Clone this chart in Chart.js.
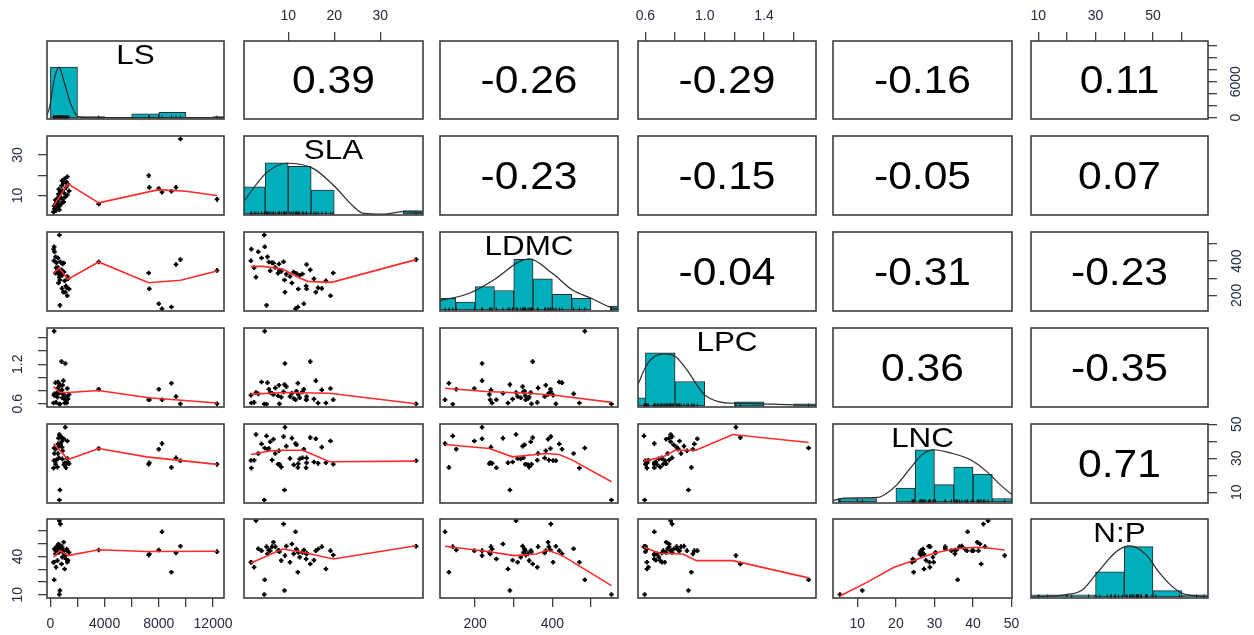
<!DOCTYPE html>
<html>
<head>
<meta charset="utf-8">
<script src="https://cdn.jsdelivr.net/npm/chart.js@4.4.0/dist/chart.umd.min.js"></script>
<style>
html,body{margin:0;background:#fff;}
#grid{position:relative;width:1254px;height:635px;overflow:hidden;background:#fff;}
#grid canvas{position:absolute;}
</style>
</head>
<body>
<div id="grid"></div>
<script>
// variables (45 observations each)
const names = ['LS','SLA','LDMC','LPC','LNC','N:P'];
const LS = [3565,7255,7300,7996,8236,8930,9270,9594,12295,
  664,700,1150,233,520,380,1200,1000,1380,1050,1300,260,450,420,880,1250,620,560,300,900,
  380,280,860,640,760,560,820,1250,980,600,960,820,738,660,700,1100];
const SLA = [5.8,19.8,14.0,13.4,11.6,12.1,14.0,37.8,8.1,
  4.8,9.2,13.9,2.0,8.5,7.8,16.5,11.2,12.2,18.2,15.6,1.9,6.5,2.6,12.5,10.4,13.1,7.2,3.5,8.0,
  5.5,4.9,17.3,9.6,11.8,4.2,6.1,19.2,6.8,10.8,16.0,14.8,9.0,3.0,5.3,9.3];
const LDMC = [395,331,239,151,122,132,380,409,346,
  553,290,255,470,340,330,244,337,237,285,297,402,391,361,318,310,325,363,455,383,
  425,484,241,323,328,418,344,198,389,272,218,349,396,306,142,218];
const LPC = [0.82,0.66,0.66,0.82,0.66,0.91,0.71,0.60,0.60,
  0.595,0.89,0.66,0.61,0.70,0.72,0.61,0.68,0.74,0.61,0.67,0.73,0.76,0.62,0.69,0.71,0.78,0.84,0.75,0.88,
  0.92,1.70,0.81,0.86,0.79,0.93,0.77,0.83,0.74,0.76,0.95,1.24,0.78,0.77,0.59,1.21];
const LNC = [35.7,26.5,27.3,35.3,38.6,24.6,30.2,28.5,26.4,
  5.5,11.3,24.4,24.2,24.8,26.5,27.0,26.2,26.8,27.3,27.8,28.7,28.9,28.8,29.6,29.8,30.3,32.8,32.8,34.4,
  35.3,36.0,36.5,37.1,37.9,38.4,39.7,40.1,41.1,41.8,41.4,42.1,42.7,43.9,43.1,48.2];
const NP = [45,41,41.9,45,59.2,27.6,42.7,47.9,43.7,
  10.2,13.3,38.0,35.4,36.7,44.5,45.8,42.0,43.0,30.2,37.0,35.4,47.6,31.5,39.3,35.4,43.0,47.6,46.0,44.5,
  42.0,21.7,47.6,48.0,45.8,44.5,44.5,44.5,51.0,49.7,44.5,34.1,65.2,67.8,47.6,40.6];

// correlations, upper triangle, row by row
const corrLS = [0.39,-0.26,-0.29,-0.16,0.11];
const corrSLA = [-0.23,-0.15,-0.05,0.07];
const corrLDMC = [-0.04,-0.31,-0.23];
const corrLPC = [0.36,-0.35];
const corrLNC = [0.71];

// histograms: bin centres, counts, density curve (count units)
const binsLS = [1000,3000,5000,7000,9000,11000,13000];
const countsLS = [36,1,0,3,4,0,1];
const densLS = [[-250,2],[-50,8],[300,28],[635,36],[1000,26],[1500,10],[2037,1.1],[2600,0.3],[12810,0.3]];
const binsSLA = [2.5,7.5,12.5,17.5,22.5,27.5,32.5,37.5];
const countsSLA = [8,15,14,7,0,0,0,1];
const densSLA = [[0.3,3.6],[5.2,12],[9.7,14.9],[15.4,13.4],[19.8,8.5],[24.2,2.2],[26.3,0.2],[30.7,0],[35.1,0.7],[39.1,0.4]];
const binsLDMC = [125,175,225,275,325,375,425,475,525,575];
const countsLDMC = [3,2,6,5,13,8,4,3,0,1];
const densLDMC = [[108,2.4],[185,4.3],[254,8.1],[314,12.4],[340,13.1],[400,9.4],[452,5.1],[501,3],[547,0.85],[569,0.2]];
const binsLPC = [0.5,0.7,0.9,1.1,1.3,1.5,1.7];
const countsLPC = [4,26,12,0,2,0,1];
const densLPC = [[0.55,10.6],[0.605,19.6],[0.65,23.6],[0.729,25.5],[0.8,24.4],[0.876,18],[0.995,5.7],[1.1,2],[1.215,1.3],[1.33,1.2],[1.55,0.7],[1.75,0.3]];
const binsLNC = [7.5,12.5,17.5,22.5,27.5,32.5,37.5,42.5,47.5];
const countsLNC = [1,1,0,4,15,5,10,8,1];
const densLNC = [[3.7,0.4],[6.6,1.1],[15.2,1.3],[17.7,2.6],[20.3,5],[23.8,9.8],[26.8,13.6],[29.8,15],[34.1,14.1],[39.2,12.2],[43.5,8.8],[47,5],[50.1,2.1]];
const binsNP = [5,15,25,35,45,55,65];
const countsNP = [1,1,1,12,24,3,1];
const densNP = [[7.6,0],[19.7,1.1],[25.5,3.5],[30.2,10.9],[37.2,21.6],[41.9,24.4],[47.7,20.1],[51.9,12.2],[56,5.9],[60,1.9],[66.5,0.3],[69.2,0]];

// smoothed lines of the scatter panels, [x, y]
const fitSLA_LS = [[233,4.8],[1300,15.7],[3565,6.4],[8000,12.9],[10000,12.1],[12295,10]];
const fitLDMC_LS = [[233,330],[650,360],[1300,294],[3565,395],[7250,274],[9600,288],[12295,342]];
const fitLPC_LS = [[233,0.86],[700,0.77],[1300,0.77],[3565,0.80],[7250,0.69],[12295,0.61]];
const fitLNC_LS = [[233,38.5],[800,33.8],[1300,29.2],[3565,35.7],[7100,30.8],[12295,26.4]];
const fitNP_LS = [[233,39.5],[700,44.5],[1300,40.6],[3565,45.2],[7100,43.8],[12295,44]];
const fitLDMC_SLA = [[1.9,369.6],[4.5,369.6],[8.8,354.4],[12.5,301.8],[14.3,282],[19.4,276],[37.8,408.8]];
const fitLPC_SLA = [[1.9,0.745],[9.6,0.77],[19,0.76],[37.8,0.6]];
const fitLNC_SLA = [[1.9,32.2],[5.9,34.2],[8.8,34.7],[13.2,34.7],[19,27.9],[37.8,28.3]];
const fitNP_SLA = [[1.9,34.9],[8.8,45.8],[13.2,43.2],[19.8,38],[37.8,48.3]];
const fitLPC_LDMC = [[122,0.835],[228,0.785],[340,0.76],[418,0.72],[553,0.62]];
const fitLNC_LDMC = [[122,38.1],[237,35.7],[297,30.8],[383,32.8],[418,32.2],[452,28.9],[553,16.2]];
const fitNP_LDMC = [[122,47.9],[228,44],[302,40.6],[358,41.9],[388,45],[426,40.6],[553,17.2]];
const fitLNC_LPC = [[0.59,28.3],[0.72,30.8],[0.8,34.7],[0.94,34.7],[1.19,43.9],[1.70,39.2]];
const fitNP_LPC = [[0.59,47.1],[0.695,42.4],[0.853,41.9],[0.944,36.7],[1.19,36.7],[1.70,23.2]];
const fitNP_LNC = [[5.5,9],[12.6,19.9],[19.5,31.5],[24.6,36.7],[29.8,42.4],[34.9,45.8],[40.9,47.1],[44.4,46.3],[48.2,45]];

// axis ticks
const ticksLS = [0,2000,4000,6000,8000,10000,12000];
const ticksSLA = [10,20,30];
const ticksLDMC = [200,300,400,500];
const ticksLPC = [0.6,0.8,1.0,1.2,1.4,1.6];
const ticksLNC = [10,20,30,40,50];
const ticksNP = [10,20,30,40,50,60];

const vars = [LS,SLA,LDMC,LPC,LNC,NP];
const corrTable = [corrLS,corrSLA,corrLDMC,corrLPC,corrLNC];
const histBins = [binsLS,binsSLA,binsLDMC,binsLPC,binsLNC,binsNP];
const histCounts = [countsLS,countsSLA,countsLDMC,countsLPC,countsLNC,countsNP];
const histDens = [densLS,densSLA,densLDMC,densLPC,densLNC,densNP];
const fits = {
  '1,0':fitSLA_LS,'2,0':fitLDMC_LS,'3,0':fitLPC_LS,'4,0':fitLNC_LS,'5,0':fitNP_LS,
  '2,1':fitLDMC_SLA,'3,1':fitLPC_SLA,'4,1':fitLNC_SLA,'5,1':fitNP_SLA,
  '3,2':fitLPC_LDMC,'4,2':fitLNC_LDMC,'5,2':fitNP_LDMC,
  '4,3':fitLNC_LPC,'5,3':fitNP_LPC,'5,4':fitNP_LNC
};

// scale ranges per variable, and count ranges of the histograms
const axisMin = [-250,0.4,109,0.55,3.7,7.5];
const axisMax = [12810,39.3,570,1.75,50.1,69.2];
const histMin = [-0.7,-0.3,-0.26,-0.5,-0.29,-0.48];
const histMax = [54.4,22.9,20,38.2,22.4,37.2];

// outer axes: which panel and which side
const outerAxes = [
  {r:0,c:1,side:'top',ticks:ticksSLA,labels:['10','20','30'],pad:7},
  {r:0,c:3,side:'top',ticks:ticksLPC,labels:['0.6','','1.0','','1.4',''],pad:7},
  {r:0,c:5,side:'top',ticks:ticksNP,labels:['10','','30','','50',''],pad:7},
  {r:0,c:5,side:'right',ticks:ticksLS,labels:['0','','','6000','','',''],pad:4},
  {r:2,c:5,side:'right',ticks:ticksLDMC,labels:['200','','400',''],pad:8},
  {r:4,c:5,side:'right',ticks:ticksLNC,labels:['10','','30','','50'],pad:12},
  {r:5,c:0,side:'bottom',ticks:ticksLS,labels:['0','','4000','','8000','','12000'],pad:9},
  {r:5,c:2,side:'bottom',ticks:ticksLDMC,labels:['200','','400',''],pad:9},
  {r:5,c:4,side:'bottom',ticks:ticksLNC,labels:['10','20','30','40','50'],pad:9},
  {r:1,c:0,side:'left',ticks:ticksSLA,labels:['10','','30'],pad:12},
  {r:3,c:0,side:'left',ticks:ticksLPC,labels:['0.6','','','1.2','',''],pad:10},
  {r:5,c:0,side:'left',ticks:ticksNP,labels:['10','','','40','',''],pad:12}
];

// panel layout
const colL = [47,244,440,638,833,1031];
const colW = [177,179,178,178,179,177];
const rowT = [41,136,232,328,424,519];
const rowH = [78,79,79,79,79,79];
const M = 42, AX = 40;
const fontFam = '"Liberation Sans", Arial, sans-serif';
const grid = document.getElementById('grid');

const panelDeco = {
  id: 'panelDeco',
  afterDraw(chart, args, o) {
    const {ctx, chartArea: a} = chart;
    ctx.save();
    if (o.text) {
      ctx.save();
      ctx.fillStyle = '#000';
      ctx.font = o.size + 'px ' + fontFam;
      ctx.textAlign = 'center';
      ctx.textBaseline = 'middle';
      ctx.translate((a.left + a.right) / 2, a.top + o.dy);
      ctx.scale(1.12, 1);
      ctx.fillText(o.text, 0, 0);
      ctx.restore();
    }
    ctx.strokeStyle = '#3d3d3d';
    ctx.lineWidth = 1.6;
    ctx.strokeRect(a.left, a.top, a.width, a.height);
    ctx.restore();
  }
};
Chart.register(panelDeco);

function makeAxis(min, max, spec) {
  const o = {type:'linear', min:min, max:max, offset:false, display:false};
  if (!spec) return o;
  const vert = spec.side === 'left' || spec.side === 'right';
  o.display = true;
  o.position = spec.side;
  o.border = {display:false};
  o.grid = {display:true, drawOnChartArea:false, drawTicks:true, tickLength:9, color:'#404040', lineWidth:1.3};
  o.afterBuildTicks = s => { s.ticks = spec.ticks.map(t => ({value:t})); };
  o.afterFit = s => { if (vert) s.width = AX; else s.height = AX; };
  o.ticks = {autoSkip:false, color:'#262a40', padding:spec.pad, font:{family:fontFam, size:14},
    minRotation: vert ? 90 : 0, maxRotation: vert ? 90 : 0, crossAlign: vert ? 'center' : 'near',
    callback: (v, i) => spec.labels[i]};
  return o;
}

function drawPanel(r, c) {
  const W = colW[c], H = rowH[r];
  const cv = document.createElement('canvas');
  cv.width = W + 2 * M; cv.height = H + 2 * M;
  cv.style.left = (colL[c] - M) + 'px';
  cv.style.top = (rowT[r] - M) + 'px';
  grid.appendChild(cv);
  const pad = {left:M, right:M, top:M, bottom:M};
  const specs = outerAxes.filter(a => a.r === r && a.c === c);
  specs.forEach(s => { pad[s.side] = M - AX; });
  const xs = specs.find(s => s.side === 'top' || s.side === 'bottom');
  const ys = specs.find(s => s.side === 'left' || s.side === 'right');
  const x = makeAxis(axisMin[c], axisMax[c], xs);
  let y, datasets, deco = {}, type = 'scatter';
  if (r === c) {
    type = 'bar';
    y = makeAxis(histMin[r], histMax[r], null);
    x.afterBuildTicks = s => { s.ticks = histBins[c].map(v => ({value:v})); };
    datasets = [
      {type:'line', data:histDens[c].map(p => ({x:p[0], y:p[1]})), borderColor:'#2b2b2b', borderWidth:1.2,
        pointRadius:0, cubicInterpolationMode:'monotone', fill:false},
      {type:'scatter', data:vars[c].map(v => ({x:v, y:0})), pointStyle:'line', rotation:90, pointRadius:2.5,
        borderColor:'#111', borderWidth:1},
      {type:'bar', data:histBins[c].map((b, i) => ({x:b, y:histCounts[c][i]})), backgroundColor:'#00AFBB',
        borderColor:'#2a2a2a', borderWidth:1, borderSkipped:false, barPercentage:1, categoryPercentage:1}
    ];
    deco = {text:names[r], size:28, dy:15.5};
  } else {
    y = makeAxis(axisMin[r], axisMax[r], ys);
    if (r > c) {
      datasets = [
        {type:'line', data:fits[r + ',' + c].map(p => ({x:p[0], y:p[1]})), borderColor:'#ff2a2a', borderWidth:1.6,
          pointRadius:0, tension:0, fill:false},
        {type:'scatter', data:vars[c].map((v, k) => ({x:v, y:vars[r][k]})), pointStyle:'cross', pointRadius:2.3,
          borderColor:'#000', backgroundColor:'#000', borderWidth:2}
      ];
    } else {
      datasets = [];
      deco = {text:corrTable[r][c - r - 1].toFixed(2), size:38, dy:H / 2 + 3};
    }
  }
  new Chart(cv, {
    type: type,
    data: {datasets: datasets},
    options: {
      responsive:false, animation:false, events:[],
      layout:{padding:pad},
      scales:{x:x, y:y},
      plugins:{legend:{display:false}, tooltip:{enabled:false}, panelDeco:deco}
    }
  });
}

for (let r = 0; r < 6; r++) {
  for (let c = 0; c < 6; c++) drawPanel(r, c);
}
</script>
</body>
</html>
